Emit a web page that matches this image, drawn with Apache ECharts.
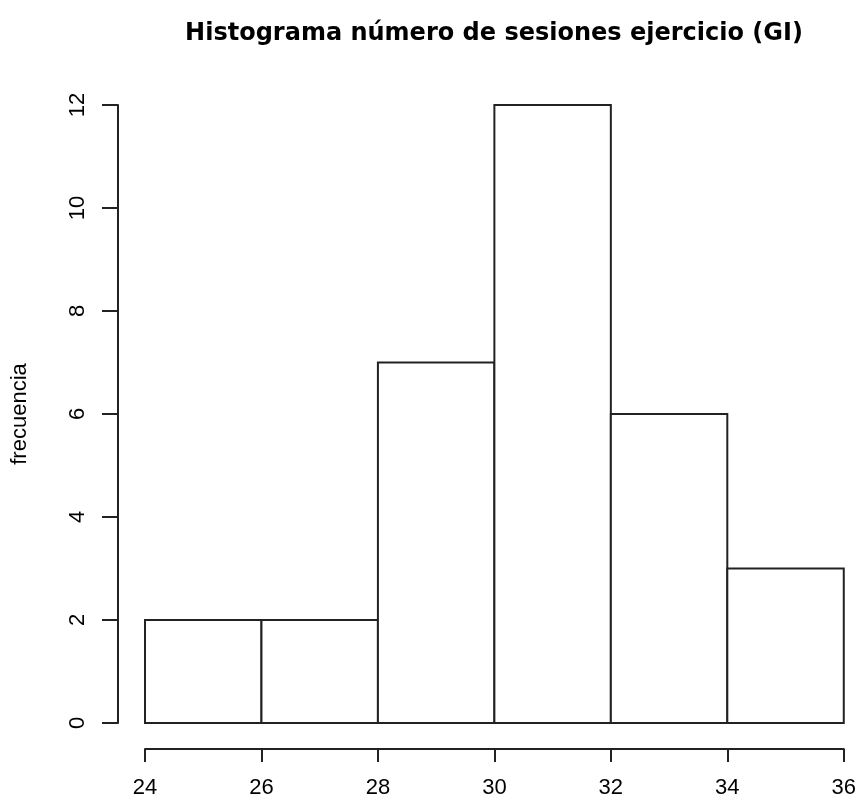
<!DOCTYPE html>
<html>
<head>
<meta charset="utf-8">
<script src="https://cdn.jsdelivr.net/npm/echarts@6/dist/echarts.min.js"></script>
<style>
  html, body { margin: 0; padding: 0; background: #fff; }
  #chart { width: 859px; height: 801px; }
</style>
</head>
<body>
<div id="chart"></div>
<script>
// Histogram of exercise sessions: bin edges and counts per bin
const binStarts = [24, 26, 28, 30, 32, 34];
const binEnds   = [26, 28, 30, 32, 34, 36];
const counts    = [2, 2, 7, 12, 6, 3];

const xTicks = [24, 26, 28, 30, 32, 34, 36];
const yTicks = [0, 2, 4, 6, 8, 10, 12];

const ink = '#222222';
const axisFont = 'Liberation Sans, Arial, sans-serif';
const titleFont = 'DejaVu Sans, Verdana, sans-serif';

const data = binStarts.map((s, i) => [s, binEnds[i], counts[i]]);

const chart = echarts.init(document.getElementById('chart'), null, { renderer: 'canvas' });

chart.setOption({
  backgroundColor: '#ffffff',
  animation: false,
  title: {
    text: 'Histograma número de sesiones ejercicio (GI)',
    left: 489,
    top: 17,
    textAlign: 'center',
    textStyle: { fontFamily: titleFont, fontWeight: 'bold', fontSize: 24, color: '#000' }
  },
  grid: { left: 145, right: 14, top: 105, bottom: 78, containLabel: false },
  xAxis: {
    type: 'value',
    min: xTicks[0],
    max: xTicks[xTicks.length - 1],
    interval: 2,
    offset: 26,
    axisLine: { show: true, onZero: false, lineStyle: { color: ink, width: 2 } },
    axisTick: { show: true, length: 13, lineStyle: { color: ink, width: 2 } },
    axisLabel: { fontFamily: axisFont, fontSize: 22, color: '#000', margin: 28 },
    splitLine: { show: false }
  },
  yAxis: {
    type: 'value',
    min: yTicks[0],
    max: yTicks[yTicks.length - 1],
    interval: 2,
    offset: 27,
    name: 'frecuencia',
    nameLocation: 'middle',
    nameGap: 87,
    nameTextStyle: { fontFamily: axisFont, fontSize: 22, color: '#000' },
    axisLine: { show: true, onZero: false, lineStyle: { color: ink, width: 2 } },
    axisTick: { show: true, length: 16, lineStyle: { color: ink, width: 2 } },
    axisLabel: { fontFamily: axisFont, fontSize: 22, color: '#000', rotate: 90, margin: 29 },
    splitLine: { show: false }
  },
  series: [{
    type: 'custom',
    data: data,
    encode: { x: [0, 1], y: 2 },
    renderItem: function (params, api) {
      const topLeft = api.coord([api.value(0), api.value(2)]);
      const bottomRight = api.coord([api.value(1), 0]);
      return {
        type: 'rect',
        shape: {
          x: topLeft[0],
          y: topLeft[1],
          width: bottomRight[0] - topLeft[0],
          height: bottomRight[1] - topLeft[1]
        },
        style: { fill: '#ffffff', stroke: ink, lineWidth: 2 }
      };
    }
  }]
});
</script>
</body>
</html>
